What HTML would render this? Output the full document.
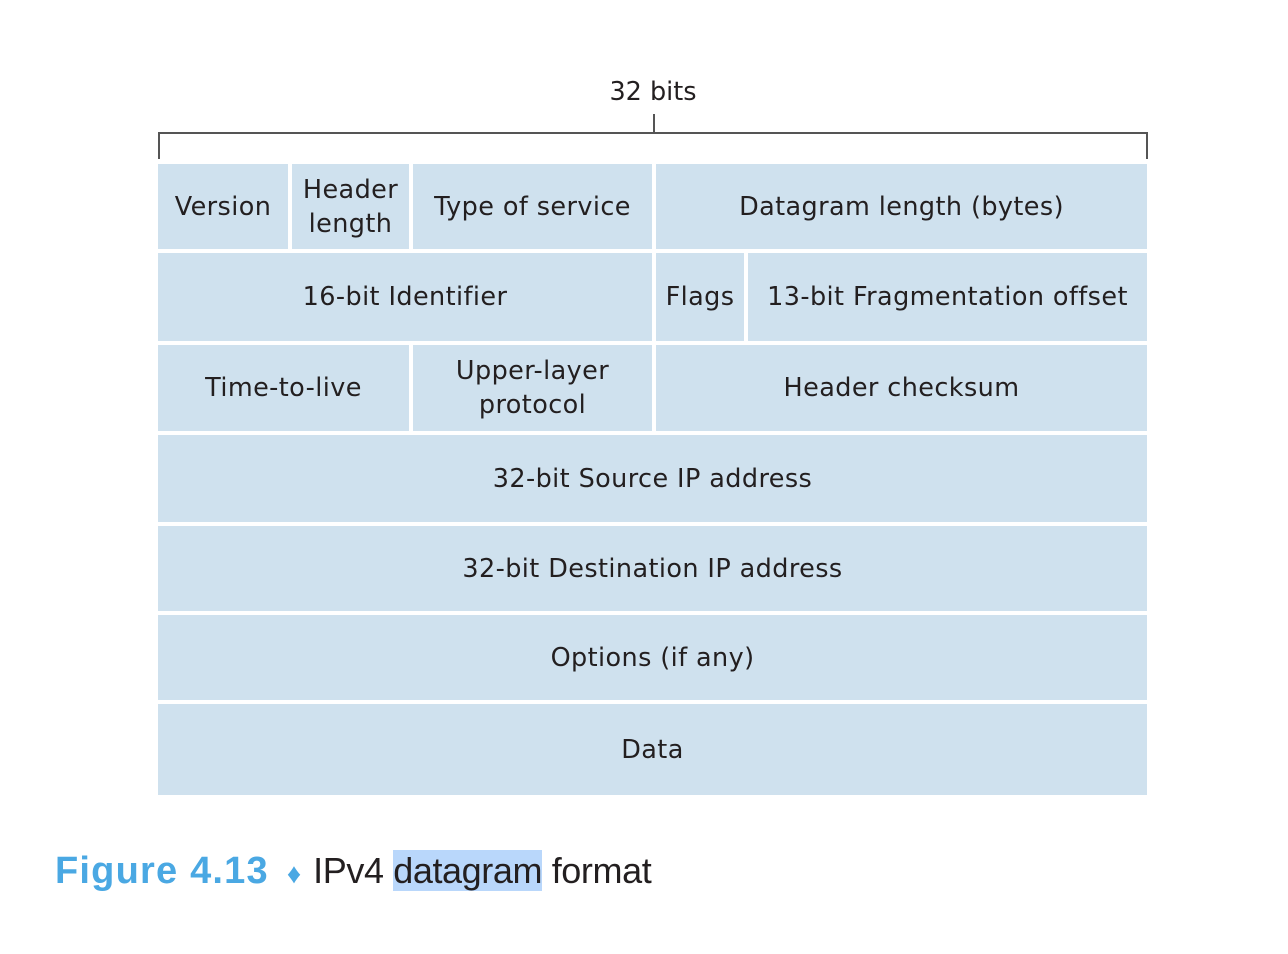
<!DOCTYPE html>
<html><head><meta charset="utf-8"><style>
body{margin:0;width:1288px;height:954px;background:#fff;position:relative;overflow:hidden;font-family:"DejaVu Sans","Liberation Sans",sans-serif;color:#231f20}
.c{position:absolute;background:#cfe1ee;display:flex;align-items:center;justify-content:center;text-align:center;font-size:25.5px;line-height:34px;letter-spacing:0.4px}
.l{position:absolute;background:#555}
</style></head><body>
<div style="position:absolute;left:553px;top:77px;width:200px;text-align:center;font-size:25.5px">32 bits</div>
<div class="l" style="left:653px;top:114px;width:1.5px;height:19px"></div>
<div class="l" style="left:158px;top:132px;width:989px;height:1.5px"></div>
<div class="l" style="left:158px;top:132px;width:1.5px;height:27px"></div>
<div class="l" style="left:1146px;top:132px;width:1.5px;height:27px"></div>

<div class="c" style="left:158px;top:164px;width:130px;height:85px">Version</div>
<div class="c" style="left:292px;top:164px;width:117px;height:85px">Header<br>length</div>
<div class="c" style="left:413px;top:164px;width:239px;height:85px">Type of service</div>
<div class="c" style="left:656px;top:164px;width:491px;height:85px">Datagram length (bytes)</div>

<div class="c" style="left:158px;top:253px;width:494px;height:88px">16-bit Identifier</div>
<div class="c" style="left:656px;top:253px;width:88px;height:88px">Flags</div>
<div class="c" style="left:748px;top:253px;width:399px;height:88px">13-bit Fragmentation offset</div>

<div class="c" style="left:158px;top:345px;width:251px;height:86px">Time-to-live</div>
<div class="c" style="left:413px;top:345px;width:239px;height:86px">Upper-layer<br>protocol</div>
<div class="c" style="left:656px;top:345px;width:491px;height:86px">Header checksum</div>

<div class="c" style="left:158px;top:435px;width:989px;height:87px">32-bit Source IP address</div>
<div class="c" style="left:158px;top:526px;width:989px;height:85px">32-bit Destination IP address</div>
<div class="c" style="left:158px;top:615px;width:989px;height:85px">Options (if any)</div>
<div class="c" style="left:158px;top:704px;width:989px;height:91px">Data</div>

<div style="position:absolute;left:55px;top:850px;font-size:36px;white-space:nowrap;font-family:'Liberation Sans',sans-serif">
<span style="color:#4aa8e3;font-weight:bold;font-size:38px;letter-spacing:1.2px">Figure 4.13</span>
<span style="color:#4aa8e3;font-size:28px;margin:0 12px 0 8px">&#9830;</span><span style="letter-spacing:-0.4px">IPv4 <span style="background:#b9d7fb">datagram</span> format</span>
</div>
</body></html>
